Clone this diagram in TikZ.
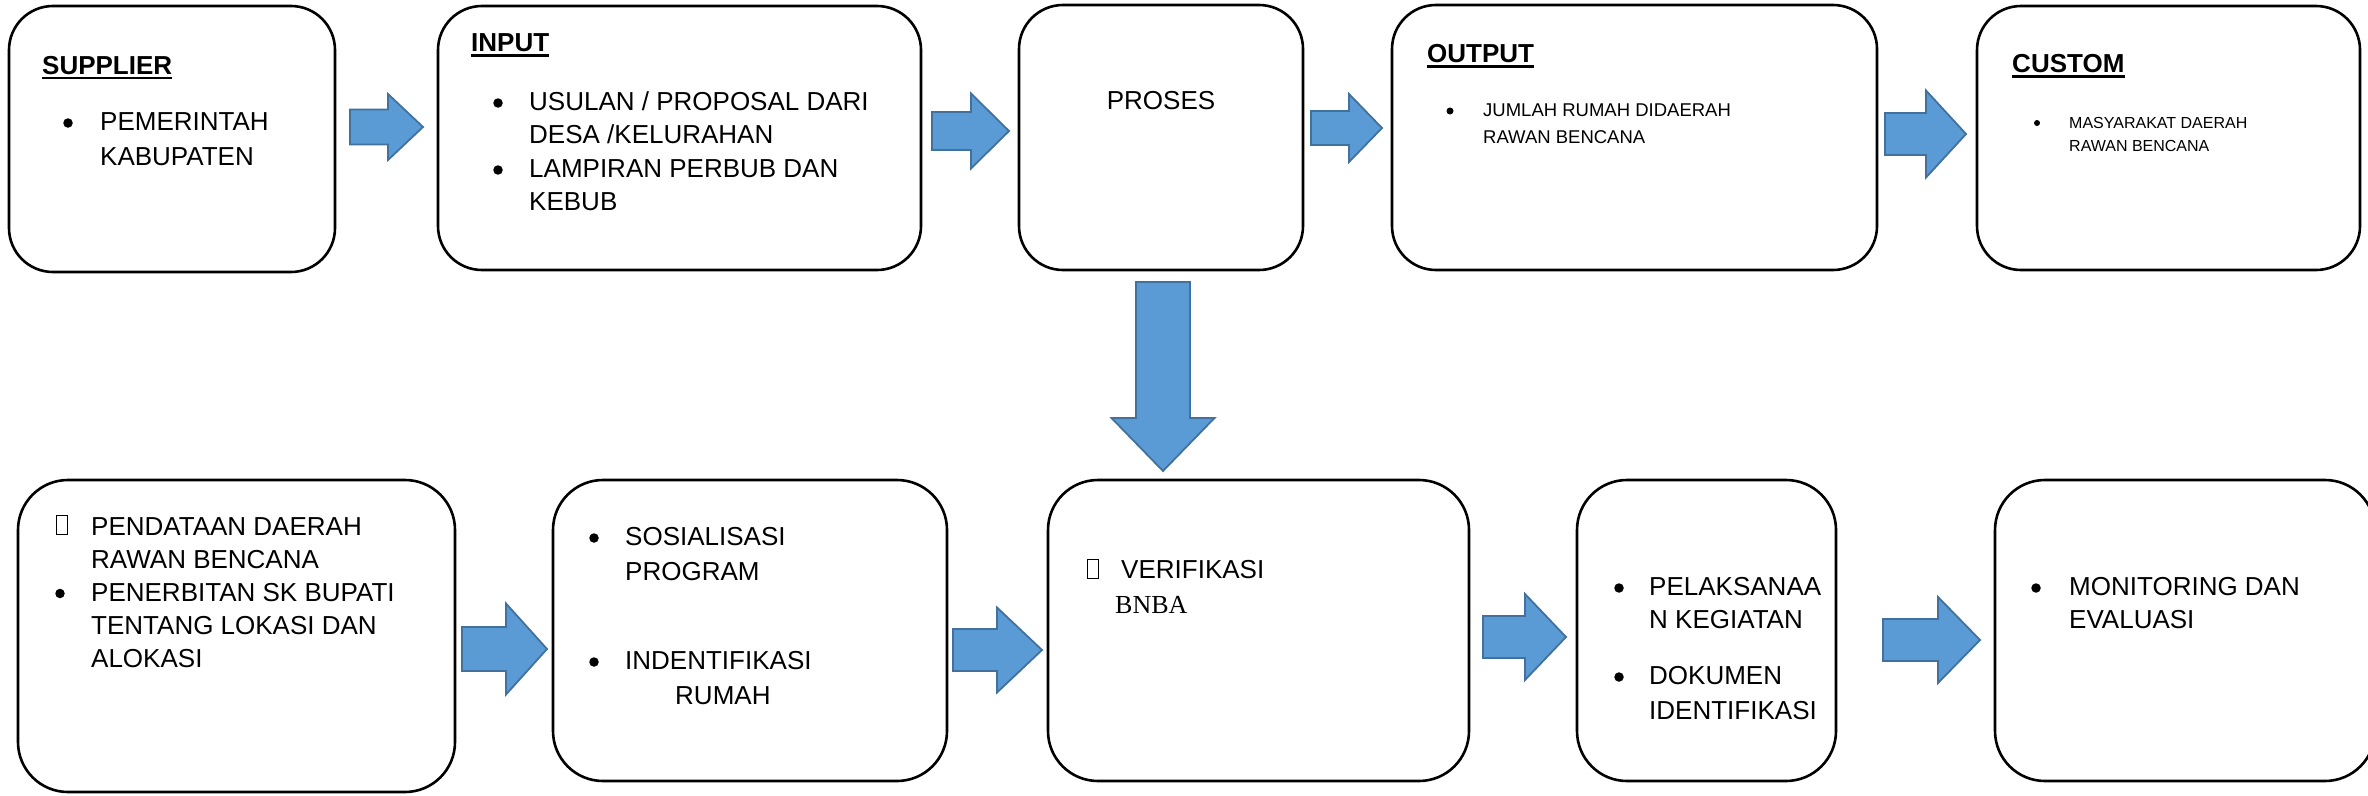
\documentclass[tikz,border=0pt]{standalone}
\usepackage{fontspec}
\setmainfont{Liberation Sans}
\newfontfamily\seriffont{Liberation Serif}
\definecolor{arrowfill}{HTML}{5B9BD5}
\definecolor{arrowline}{HTML}{41719C}
\tikzset{
  pics/rarrow/.style n args={4}{code={
    \draw[blockarrow] (0,-#3) -- ({#1-#2},-#3) -- ({#1-#2},-#4) -- (#1,0) -- ({#1-#2},#4) -- ({#1-#2},#3) -- (0,#3) -- cycle;
  }},
  pics/darrow/.style n args={4}{code={
    \draw[blockarrow] (-#3,0) -- (-#3,{#1-#2}) -- (-#4,{#1-#2}) -- (0,#1) -- (#4,{#1-#2}) -- (#3,{#1-#2}) -- (#3,0) -- cycle;
  }}
}
\begin{document}
\begin{tikzpicture}[x=1pt,y=-1pt,
  blockarrow/.style={fill=arrowfill, draw=arrowline, line width=1.8pt, line join=miter},
  box/.style={draw=black, line width=2.6pt, rounded corners=44pt, inner sep=0pt},
  lowbox/.style={box, rounded corners=50pt},
  txt/.style={anchor=base west, inner sep=0pt, font=\fontsize{26}{31}\selectfont},
  ctxt/.style={anchor=base, inner sep=0pt, font=\fontsize{26}{31}\selectfont},
  head/.style={txt, font=\fontsize{26}{31}\selectfont\bfseries},
  bul/.style={circle, fill=black, inner sep=0pt, minimum size=9.5pt, yshift=7.5pt},
  smalltxt/.style={txt, font=\fontsize{18.5}{22}\selectfont},
  smallbul/.style={circle, fill=black, inner sep=0pt, minimum size=7pt, yshift=5.5pt},
  tinytxt/.style={txt, font=\fontsize{16}{19}\selectfont},
  tinybul/.style={circle, fill=black, inner sep=0pt, minimum size=6pt, yshift=5pt},
  glyphbox/.style={draw=black, line width=0.9pt, minimum width=11pt, minimum height=19pt, inner sep=0pt, anchor=south west},
  uline/.style={line width=2.3pt}
]
\useasboundingbox (0,0) rectangle (2368,795);

% ---------- top row boxes ----------
\node[box, minimum width=326pt, minimum height=266pt] (supplier) at (172,139) {};
\node[box, minimum width=483pt, minimum height=264pt] (input) at (679.5,138) {};
\node[box, minimum width=284pt, minimum height=265pt] (proses) at (1161,137.5) {};
\node[box, minimum width=485pt, minimum height=265pt] (output) at (1634.5,137.5) {};
\node[box, minimum width=383pt, minimum height=264pt] (custom) at (2168.5,138) {};

% ---------- bottom row boxes ----------
\node[lowbox, minimum width=437pt, minimum height=312pt] (pendataan) at (236.5,636) {};
\node[lowbox, minimum width=394pt, minimum height=301pt] (sosialisasi) at (750,630.5) {};
\node[lowbox, minimum width=421pt, minimum height=301pt] (verifikasi) at (1258.5,630.5) {};
\node[lowbox, minimum width=259pt, minimum height=301pt] (pelaksanaan) at (1706.5,630.5) {};
\node[lowbox, minimum width=380pt, minimum height=301pt] (monitoring) at (2185,630.5) {};

% ---------- block arrows ----------
\pic (a1) at (350,127) {rarrow={73}{35}{17.5}{33}};
\pic (a2) at (932,131) {rarrow={77}{38}{19}{37.5}};
\pic (a3) at (1311,128) {rarrow={71}{33}{17}{34}};
\pic (a4) at (1885,134) {rarrow={81}{40}{21}{43.5}};
\pic (ad) at (1163,282) {darrow={189}{53}{27}{51.5}};
\pic (b1) at (462,649) {rarrow={85}{41}{22}{45.5}};
\pic (b2) at (953,650) {rarrow={89}{45}{21}{42.5}};
\pic (b3) at (1483,637) {rarrow={83}{41}{21}{43}};
\pic (b4) at (1883,640) {rarrow={97}{42}{21}{43}};

% ---------- SUPPLIER ----------
\node[head] (supH) at (42,74) {SUPPLIER};
\draw[uline] ([yshift=-4pt]supH.base west) -- ([yshift=-4pt]supH.base east);
\node[bul] (supB1) at (68,130.5) {};
\node[txt] (supT1) at (100,130.5) {PEMERINTAH};
\node[txt] (supT2) at (100,165.5) {KABUPATEN};

% ---------- INPUT ----------
\node[head] (inH) at (471,51.5) {INPUT};
\draw[uline] ([yshift=-4pt]inH.base west) -- ([yshift=-4pt]inH.base east);
\node[bul] (inB1) at (498,110.5) {};
\node[txt] (inT1) at (529,110.5) {USULAN / PROPOSAL DARI};
\node[txt] (inT2) at (529,143.5) {DESA /KELURAHAN};
\node[bul] (inB2) at (498,177.5) {};
\node[txt] (inT3) at (529,177.5) {LAMPIRAN PERBUB DAN};
\node[txt] (inT4) at (529,210.5) {KEBUB};

% ---------- PROSES ----------
\node[ctxt] (prT) at (1161,109.5) {PROSES};

% ---------- OUTPUT ----------
\node[head] (outH) at (1427,62.5) {OUTPUT};
\draw[uline] ([yshift=-4pt]outH.base west) -- ([yshift=-4pt]outH.base east);
\node[smallbul] (outB1) at (1450,116.5) {};
\node[smalltxt] (outT1) at (1483,116.5) {JUMLAH RUMAH DIDAERAH};
\node[smalltxt] (outT2) at (1483,143.5) {RAWAN BENCANA};

% ---------- CUSTOM ----------
\node[head] (cusH) at (2012,72.5) {CUSTOM};
\draw[uline] ([yshift=-4pt]cusH.base west) -- ([yshift=-4pt]cusH.base east);
\node[tinybul] (cusB1) at (2037,128) {};
\node[tinytxt] (cusT1) at (2069,128) {MASYARAKAT DAERAH};
\node[tinytxt] (cusT2) at (2069,151) {RAWAN BENCANA};

% ---------- PENDATAAN ----------
\node[glyphbox] (pdG) at (56,535) {};
\node[txt] (pdT1) at (91,535) {PENDATAAN DAERAH};
\node[txt] (pdT2) at (91,568) {RAWAN BENCANA};
\node[bul] (pdB2) at (60,601) {};
\node[txt] (pdT3) at (91,601) {PENERBITAN SK BUPATI};
\node[txt] (pdT4) at (91,634) {TENTANG LOKASI DAN};
\node[txt] (pdT5) at (91,667) {ALOKASI};

% ---------- SOSIALISASI ----------
\node[bul] (soB1) at (594,545.5) {};
\node[txt] (soT1) at (625,545.5) {SOSIALISASI};
\node[txt] (soT2) at (625,580.5) {PROGRAM};
\node[bul] (soB2) at (594,669.5) {};
\node[txt] (soT3) at (625,669.5) {INDENTIFIKASI};
\node[txt] (soT4) at (675,704.5) {RUMAH};

% ---------- VERIFIKASI ----------
\node[glyphbox] (veG) at (1087,578.5) {};
\node[txt] (veT1) at (1121,578.5) {VERIFIKASI};
\node[txt, font=\fontsize{26}{31}\seriffont] (veT2) at (1115,613) {BNBA};

% ---------- PELAKSANAAN ----------
\node[bul] (plB1) at (1619,595.5) {};
\node[txt] (plT1) at (1649,595.5) {PELAKSANAA};
\node[txt] (plT2) at (1649,628.5) {N KEGIATAN};
\node[bul] (plB2) at (1619,684.5) {};
\node[txt] (plT3) at (1649,684.5) {DOKUMEN};
\node[txt] (plT4) at (1649,719.5) {IDENTIFIKASI};

% ---------- MONITORING ----------
\node[bul] (moB1) at (2036,595.5) {};
\node[txt] (moT1) at (2069,595.5) {MONITORING DAN};
\node[txt] (moT2) at (2069,628.5) {EVALUASI};
\end{tikzpicture}
\end{document}
